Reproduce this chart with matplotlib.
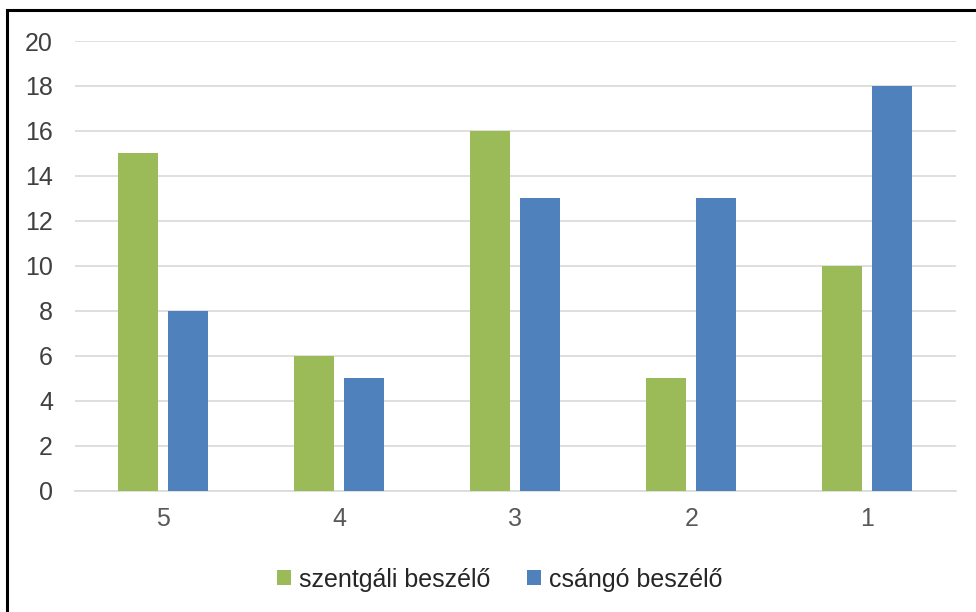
import matplotlib
matplotlib.use("Agg")
import matplotlib.pyplot as plt
import numpy as np
from matplotlib.patches import Rectangle

plt.rcParams['font.family'] = ['Liberation Sans', 'DejaVu Sans']

categories = ['5', '4', '3', '2', '1']
szentgali = [15, 6, 16, 5, 10]
csango = [8, 5, 13, 13, 18]
series_names = ['szentgáli beszélő', 'csángó beszélő']

green = '#9BBB59'
blue = '#4F81BD'

fig = plt.figure(figsize=(9.76, 6.12), dpi=100)
ax = fig.add_axes([0.077, 0.198, 0.902, 0.735])

x = np.arange(len(categories))
w = 0.227
gap = 0.057
ax.bar(x - (w + gap) / 2, szentgali, w, color=green, label=series_names[0], zorder=3)
ax.bar(x + (w + gap) / 2, csango, w, color=blue, label=series_names[1], zorder=3)

ax.set_xlim(-0.5, len(categories) - 0.5)
ax.set_ylim(0, 20)
ax.set_yticks(range(0, 21, 2))
ax.set_xticks(x)
ax.set_xticklabels(categories)
ax.yaxis.grid(True, color='#D9D9D9', linewidth=1.2, zorder=0)
for s in ['top', 'right', 'left']:
    ax.spines[s].set_visible(False)
ax.spines['bottom'].set_color('#D9D9D9')
ax.spines['bottom'].set_linewidth(1.2)
ax.tick_params(axis='both', length=0, labelsize=18)
ax.tick_params(axis='y', pad=16, labelcolor='#404040')
ax.tick_params(axis='x', pad=12, labelcolor='#595959')

leg = fig.legend(loc='center', bbox_to_anchor=(0.512, 0.053), ncol=2, frameon=False,
                 fontsize=18, handlelength=0.56, handleheight=0.56, handletextpad=0.32,
                 columnspacing=1.5)
for t in leg.get_texts():
    t.set_color('#262626')

# outer border (only top and left show in the picture)
fig.patches.append(Rectangle((0.0075, -0.1), 1.2, 1.0835, transform=fig.transFigure,
                             fill=False, edgecolor='black', linewidth=2.2))

fig.savefig('out.png', dpi=100)
